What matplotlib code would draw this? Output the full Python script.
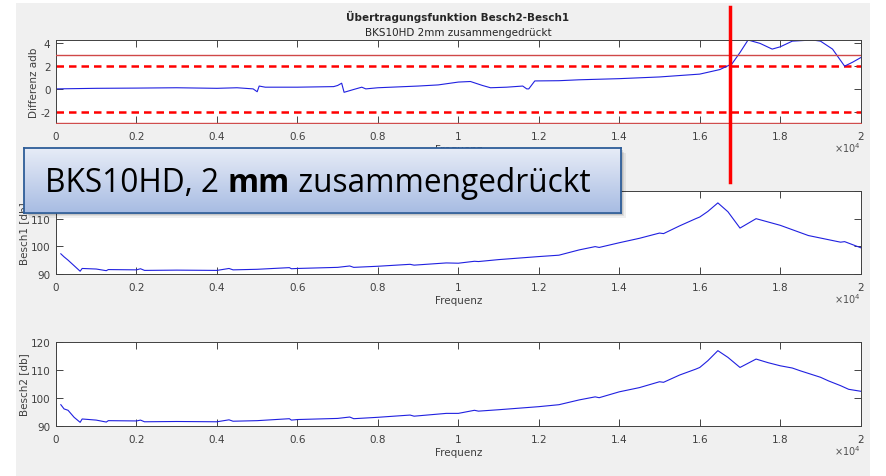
import numpy as np
import matplotlib.pyplot as plt
from matplotlib.patches import Rectangle
from matplotlib.lines import Line2D

plt.rcParams['axes.unicode_minus'] = False

# frequency axis in units of 1e4 Hz
diff_f = [0.0, 0.1, 0.2, 0.3, 0.4, 0.45, 0.49, 0.50, 0.505, 0.52, 0.6, 0.69, 0.70,
          0.71, 0.716, 0.74, 0.76, 0.77, 0.8, 0.9, 0.95, 0.98, 1.0, 1.03, 1.06,
          1.08, 1.12, 1.16, 1.17, 1.175, 1.19, 1.25, 1.3, 1.4, 1.5, 1.6, 1.65,
          1.68, 1.70, 1.72, 1.75, 1.78, 1.8, 1.83, 1.88, 1.9, 1.93, 1.96, 1.98, 2.0]
diff_db = [0.0, 0.05, 0.07, 0.1, 0.05, 0.1, 0.0, -0.25, 0.25, 0.15, 0.15, 0.2, 0.3,
           0.5, -0.3, -0.05, 0.15, 0.0, 0.1, 0.25, 0.35, 0.5, 0.6, 0.65, 0.3,
           0.1, 0.15, 0.25, 0.0, 0.0, 0.7, 0.72, 0.8, 0.9, 1.05, 1.3, 1.7,
           2.2, 3.2, 4.3, 4.0, 3.5, 3.7, 4.2, 4.3, 4.2, 3.5, 2.0, 2.35, 2.75]

b1_f = [0.012, 0.02, 0.03, 0.045, 0.06, 0.065, 0.1, 0.125, 0.13, 0.2, 0.21, 0.22,
        0.3, 0.4, 0.43, 0.44, 0.5, 0.58, 0.585, 0.6, 0.7, 0.73, 0.74, 0.8, 0.88,
        0.89, 0.97, 1.0, 1.04, 1.05, 1.1, 1.2, 1.25, 1.3, 1.34, 1.35, 1.4, 1.45,
        1.5, 1.51, 1.55, 1.59, 1.6, 1.62, 1.645, 1.67, 1.7, 1.72, 1.74, 1.77, 1.8,
        1.87, 1.95, 1.96, 2.0]
b1_db = [97.3, 96.2, 95.0, 93.0, 91.0, 92.0, 91.8, 91.2, 91.6, 91.5, 91.9, 91.3,
         91.4, 91.3, 92.0, 91.5, 91.7, 92.3, 91.9, 92.0, 92.4, 92.9, 92.4, 92.8, 93.5,
         93.2, 94.0, 93.9, 94.6, 94.5, 95.2, 96.3, 96.8, 98.7, 99.9, 99.6, 101.3, 102.9,
         104.8, 104.6, 107.4, 110.0, 110.6, 112.6, 115.7, 112.5, 106.6, 108.3, 110.0,
         108.8, 107.6, 103.9, 101.5, 101.7, 99.5]

b2_f = [0.012, 0.02, 0.03, 0.045, 0.06, 0.065, 0.1, 0.125, 0.13, 0.2, 0.21, 0.22,
        0.3, 0.4, 0.43, 0.44, 0.5, 0.58, 0.585, 0.6, 0.7, 0.73, 0.74, 0.8, 0.88,
        0.89, 0.97, 1.0, 1.04, 1.05, 1.1, 1.2, 1.25, 1.3, 1.34, 1.35, 1.4, 1.45,
        1.5, 1.51, 1.55, 1.59, 1.6, 1.62, 1.645, 1.67, 1.7, 1.72, 1.74, 1.77, 1.8,
        1.83, 1.85, 1.9, 1.92, 1.95, 1.97, 2.0]
b2_db = [97.5, 96.0, 95.5, 93.0, 91.2, 92.4, 92.0, 91.3, 91.8, 91.7, 92.0, 91.4,
         91.5, 91.4, 92.1, 91.6, 91.8, 92.5, 92.0, 92.2, 92.6, 93.1, 92.5, 93.0, 93.8,
         93.4, 94.4, 94.4, 95.5, 95.2, 95.7, 96.8, 97.5, 99.2, 100.3, 100.0, 102.1, 103.6,
         105.7, 105.5, 108.1, 110.2, 110.8, 113.2, 116.8, 114.4, 110.8, 112.3, 113.8,
         112.5, 111.4, 110.6, 109.6, 107.3, 106.0, 104.3, 103.0, 102.3]

limits_solid = [3, -3]
limits_dash = [2, -2]
xticks = [0, 0.2, 0.4, 0.6, 0.8, 1.0, 1.2, 1.4, 1.6, 1.8, 2.0]
xticklabels = ['0', '0.2', '0.4', '0.6', '0.8', '1', '1.2', '1.4', '1.6', '1.8', '2']

W, H = 886, 477
fig = plt.figure(figsize=(W / 100, H / 100), dpi=100)
fig.patch.set_facecolor('white')
fig.patches.append(Rectangle((16 / W, 0), (870 - 16) / W, 1 - 4 / H,
                             transform=fig.transFigure, facecolor='#f0f0f0',
                             edgecolor='none', zorder=-5))

tick_col = '#262626'
line_col = '#2020e0'


def make_ax(top_px, bot_px, ylim, yticks, ylabel):
    ax = fig.add_axes([56 / W, 1 - bot_px / H, 804.7 / W, (bot_px - top_px) / H])
    ax.set_facecolor('white')
    ax.set_xlim(0, 2)
    ax.set_ylim(*ylim)
    ax.set_xticks(xticks)
    ax.set_xticklabels(xticklabels)
    ax.set_yticks(yticks)
    ax.tick_params(direction='in', length=5, width=0.6, top=True, right=True,
                   labelsize=7.5, colors=tick_col, labelcolor='#404040')
    ax.tick_params(axis='x', pad=6)
    ax.tick_params(axis='y', pad=4)
    for s in ax.spines.values():
        s.set_color('#404040')
        s.set_linewidth(0.7)
    ax.set_xlabel('Frequenz', fontsize=7.5, color='#404040', labelpad=2)
    ax.set_ylabel(ylabel, fontsize=7.5, color='#404040', labelpad=1)
    ax.text(1.0, -0.29, r'$\times10^4$', transform=ax.transAxes, ha='right',
            va='center', fontsize=7, color='#505050')
    return ax


ax1 = make_ax(41, 124, (-3, 4.3), [-2, 0, 2, 4], 'Differenz adb')
for v in limits_solid:
    ax1.axhline(v, color='#d04848', lw=1.0, zorder=3)
for v in limits_dash:
    ax1.axhline(v, color='#ff0000', lw=1.8, ls=(0, (3, 2)))
ax1.spines['bottom'].set_color('#d04848')
ax1.plot(diff_f, diff_db, color=line_col, lw=0.8)
fig.text(458 / W, 1 - 17 / H, 'Übertragungsfunktion Besch2-Besch1', ha='center',
         va='center', fontsize=7.5, fontweight='bold', color='#262626')
fig.text(458 / W, 1 - 33 / H, 'BKS10HD 2mm zusammengedrückt', ha='center',
         va='center', fontsize=7.5, color='#262626')

ax2 = make_ax(192, 275, (90, 120), [90, 100, 110, 120], 'Besch1 [db]')
ax2.plot(b1_f, b1_db, color=line_col, lw=0.8)

ax3 = make_ax(342.7, 426.7, (90, 120), [90, 100, 110, 120], 'Besch2 [db]')
ax3.plot(b2_f, b2_db, color=line_col, lw=0.8)

# vertical red marker line
fig.lines.append(Line2D([730 / W, 730 / W], [1 - 8 / H, 1 - 183 / H],
                        transform=fig.transFigure, color='#ff0000', lw=2.5, zorder=10))

# callout box with shadow and gradient
bx0, by0, bx1, by1 = 24, 149, 620.5, 213.5
for i, a in enumerate([0.10, 0.08, 0.06]):
    d = 2 + i * 1.5
    fig.patches.append(Rectangle(((bx0 + d) / W, 1 - (by1 + d) / H), (bx1 - bx0) / W,
                                 (by1 - by0) / H, transform=fig.transFigure,
                                 facecolor='black', alpha=a, edgecolor='none', zorder=20))
bax = fig.add_axes([bx0 / W, 1 - by1 / H, (bx1 - bx0) / W, (by1 - by0) / H], zorder=30)
grad = np.linspace(0, 1, 100).reshape(-1, 1)
c_top = np.array([0.91, 0.93, 0.97])
c_bot = np.array([0.66, 0.74, 0.89])
img = c_top[None, None, :] * (1 - grad[:, :, None]) + c_bot[None, None, :] * grad[:, :, None]
bax.imshow(img, aspect='auto', extent=(0, 1, 0, 1), origin='upper')
bax.set_xlim(0, 1)
bax.set_ylim(0, 1)
bax.set_xticks([])
bax.set_yticks([])
for s in bax.spines.values():
    s.set_color('#2e5d98')
    s.set_linewidth(1.3)
fam = ['Open Sans', 'DejaVu Sans']
fs = 22.8
t1 = bax.text(21 / (bx1 - bx0), 0.47, 'BKS10HD, 2 ', fontsize=fs, family=fam,
              va='center', ha='left', color='black')
fig.canvas.draw()
t2 = bax.annotate('mm', xycoords=t1, xy=(1, 0), va='bottom', ha='left',
                  fontsize=fs, family=fam, fontweight='bold', color='black')
bax.annotate(' zusammengedrückt', xycoords=t2, xy=(1, 0), va='bottom', ha='left',
             fontsize=fs, family=fam, color='black')

fig.savefig('out.png', dpi=100)
